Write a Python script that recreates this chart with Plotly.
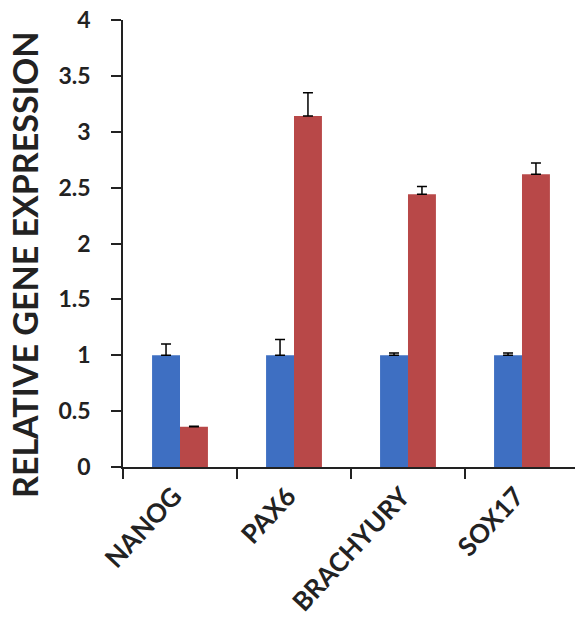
import plotly.graph_objects as go

categories = ["NANOG", "PAX6", "BRACHYURY", "SOX17"]
control_values = [1.0, 1.0, 1.0, 1.0]
control_errors = [0.10, 0.14, 0.02, 0.02]
treated_values = [0.36, 3.14, 2.44, 2.62]
treated_errors = [0.005, 0.21, 0.07, 0.10]
y_ticks = [0, 0.5, 1, 1.5, 2, 2.5, 3, 3.5, 4]
y_tick_labels = ["0", "0.5", "1", "1.5", "2", "2.5", "3", "3.5", "4"]
y_title = "RELATIVE GENE EXPRESSION"

blue = "#3e6fc2"
red = "#b84848"
ink = "#222222"
font_family = "Lato, 'Open Sans', sans-serif"

fig = go.Figure()
fig.add_trace(go.Bar(
    x=categories, y=control_values, marker=dict(color=blue, line=dict(width=0)),
    error_y=dict(type="data", array=control_errors, arrayminus=[0]*4, symmetric=False,
                 color="black", thickness=1.5, width=5),
    name="Control"))
fig.add_trace(go.Bar(
    x=categories, y=treated_values, marker=dict(color=red, line=dict(width=0)),
    error_y=dict(type="data", array=treated_errors, arrayminus=[0]*4, symmetric=False,
                 color="black", thickness=1.5, width=5),
    name="Treated"))

fig.update_layout(
    width=575, height=618,
    margin=dict(l=123, r=0, t=20, b=151, autoexpand=False),
    plot_bgcolor="white", paper_bgcolor="white",
    barmode="group", bargap=0.51, bargroupgap=0,
    showlegend=False,
    font=dict(family=font_family, color=ink),
    xaxis=dict(
        range=[-0.5, 3.465], showline=True, linecolor=ink, linewidth=1.5,
        ticks="outside", tickson="boundaries", ticklen=10, tickwidth=1.5, tickcolor=ink,
        ticklabelstandoff=2, ticklabelshift=-6,
        tickangle=-47, tickfont=dict(size=26, family=font_family, weight="bold", color=ink),
        showgrid=False, zeroline=False, automargin=False,
    ),
    yaxis=dict(
        range=[0, 4], tickvals=y_ticks, ticktext=y_tick_labels,
        showline=True, linecolor=ink, linewidth=1.5,
        ticks="outside", ticklen=10, tickwidth=1.5, tickcolor=ink,
        ticklabelstandoff=16,
        tickfont=dict(size=23, family=font_family, weight="bold", color=ink),
        showgrid=False, zeroline=False, automargin=False,
    ),
    annotations=[dict(
        text=y_title, textangle=-90, showarrow=False,
        xref="paper", yref="paper", x=-0.2168, y=0.452,
        xanchor="center", yanchor="middle",
        font=dict(size=34, family=font_family, weight="bold", color=ink),
    )],
)

fig.write_html("out.html", config={"displayModeBar": False},
               post_script="document.body.style.margin='0';")
